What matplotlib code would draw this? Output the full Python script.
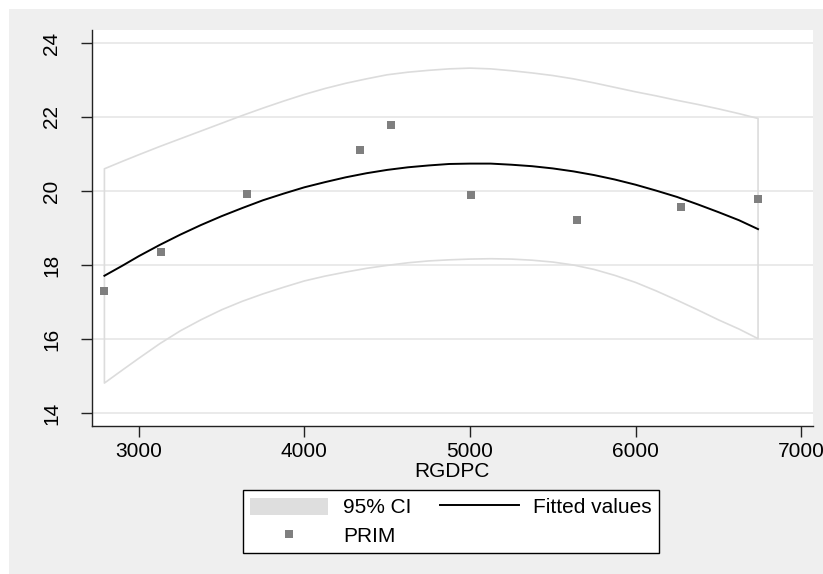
import matplotlib
matplotlib.use("Agg")
import matplotlib.pyplot as plt
from matplotlib.patches import Patch, Rectangle
from matplotlib.lines import Line2D

# =============================================================================
# Data
# =============================================================================
rgdpc = [2792, 3134, 3654, 4338, 4525, 5007, 5649, 6275, 6740]
prim = [17.30, 18.34, 19.93, 21.10, 21.78, 19.90, 19.22, 19.57, 19.79]

# quadratic fit and its 95% band, sampled along RGDPC
fit_x = [2792, 2900, 3000, 3125, 3250, 3375, 3500, 3625, 3750, 3875,
         4000, 4125, 4250, 4375, 4500, 4625, 4750, 4875, 5000, 5125,
         5250, 5375, 5500, 5625, 5750, 5875, 6000, 6125, 6250, 6375,
         6500, 6625, 6740]
fit_y = [17.71, 17.98, 18.24, 18.54, 18.82, 19.08, 19.32, 19.54, 19.75, 19.93,
         20.10, 20.24, 20.37, 20.48, 20.57, 20.64, 20.69, 20.73, 20.74, 20.74,
         20.71, 20.67, 20.61, 20.53, 20.43, 20.31, 20.17, 20.01, 19.84, 19.64,
         19.43, 19.21, 18.97]
ci_hi = [20.60, 20.80, 20.98, 21.20, 21.41, 21.62, 21.83, 22.04, 22.24, 22.43,
         22.61, 22.77, 22.91, 23.03, 23.14, 23.21, 23.26, 23.30, 23.32, 23.30,
         23.25, 23.19, 23.12, 23.03, 22.92, 22.80, 22.68, 22.57, 22.45, 22.34,
         22.22, 22.09, 21.96]
ci_lo = [14.81, 15.16, 15.48, 15.87, 16.22, 16.52, 16.79, 17.02, 17.22, 17.40,
         17.57, 17.70, 17.81, 17.91, 17.99, 18.06, 18.11, 18.14, 18.16, 18.17,
         18.16, 18.13, 18.08, 18.00, 17.88, 17.72, 17.53, 17.30, 17.05, 16.79,
         16.52, 16.27, 16.01]

x_ticks = [3000, 4000, 5000, 6000, 7000]
y_ticks = [14, 16, 18, 20, 22, 24]

# =============================================================================
# Figure
# =============================================================================
plt.rcParams["font.family"] = ["Liberation Sans", "DejaVu Sans"]

fig = plt.figure(figsize=(8.23, 5.74), dpi=100)
fig.patch.set_facecolor("white")
# stata-style grey outer region
fig.patches.append(Rectangle((9 / 823, 0), 1 - 9 / 823, 1 - 9 / 574,
                             transform=fig.transFigure, facecolor="#efefef",
                             edgecolor="none", zorder=-10))

ax = fig.add_axes([91.5 / 823, 148 / 574, (813 - 91.5) / 823, (426 - 30) / 574])
ax.set_facecolor("white")

ax.fill_between(fit_x, ci_lo, ci_hi, facecolor="none", edgecolor="#dcdcdc",
                linewidth=1.2, zorder=2)
ax.plot(fit_x, fit_y, color="black", linewidth=1.4, zorder=3)
ax.plot(rgdpc, prim, linestyle="none", marker="s", markersize=5.8,
        color="#7f7f7f", markeredgewidth=0, zorder=4)

ax.set_xlim(2714, 7072)
ax.set_ylim(13.65, 24.35)
ax.set_xticks(x_ticks)
ax.set_yticks(y_ticks)
ax.yaxis.grid(True, color="#e6e6e6", linewidth=1.2)
ax.set_axisbelow(True)

for side in ("top", "right"):
    ax.spines[side].set_visible(False)
for side in ("left", "bottom"):
    ax.spines[side].set_color("#222222")
    ax.spines[side].set_linewidth(1.0)

ax.tick_params(axis="both", colors="#222222", labelcolor="black",
               labelsize=15, length=8, width=1.0)
ax.tick_params(axis="x", pad=3.5)
ax.tick_params(axis="y", which="major", pad=14, labelrotation=90)
plt.setp(ax.get_yticklabels(), va="center", ha="right")
ax.set_xlabel("RGDPC", fontsize=15, labelpad=0.5)

# =============================================================================
# Legend
# =============================================================================
handles = [
    Patch(facecolor="#dedede", edgecolor="none"),
    Line2D([], [], linestyle="none", marker="s", markersize=5.8,
           color="#7f7f7f", markeredgewidth=0),
    Line2D([], [], color="black", linewidth=1.4),
]
labels = ["95% CI", "PRIM", "Fitted values"]
leg = fig.legend(handles, labels, ncol=2, loc="center",
                 bbox_to_anchor=(451 / 823, 1 - 521.5 / 574),
                 fontsize=15, frameon=True, fancybox=False,
                 handlelength=3.75, handleheight=0.9, handletextpad=0.7,
                 columnspacing=1.4, labelspacing=0.4, borderpad=0.35)
leg.get_frame().set_edgecolor("black")
leg.get_frame().set_linewidth(1.0)
leg.get_frame().set_facecolor("white")
leg.get_frame().set_alpha(1)

fig.savefig("out.png", dpi=100, facecolor=fig.get_facecolor())
